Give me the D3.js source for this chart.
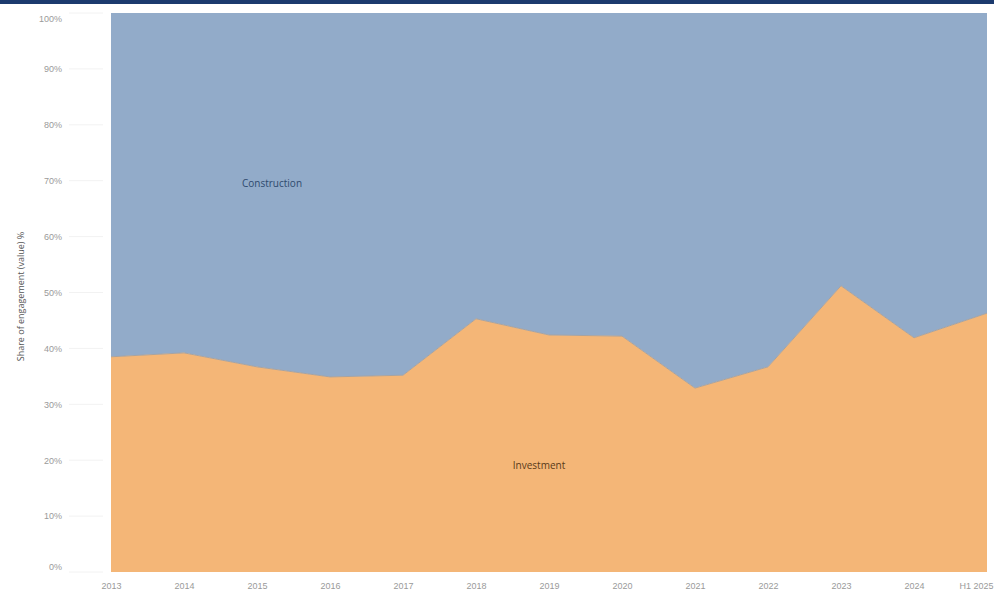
<!DOCTYPE html>
<html>
<head>
<meta charset="utf-8">
<script src="https://cdn.jsdelivr.net/npm/d3@7"></script>
<style>
  body { margin: 0; background: #fff; font-family: "Open Sans", "Noto Sans", sans-serif; }
  .axis text { fill: #9a9a9a; font-size: 9px; }
  .axis path, .axis line { stroke: none; }
</style>
</head>
<body>
<svg class="chart" width="994" height="600"></svg>
<script>
const years = ['2013', '2014', '2015', '2016', '2017', '2018', '2019', '2020', '2021', '2022', '2023', '2024', 'H1 2025'];
// investment share of engagement, %
const investment = [38.5, 39.2, 36.7, 34.9, 35.2, 45.3, 42.4, 42.2, 32.9, 36.7, 51.2, 41.9, 46.3];
const construction = investment.map(v => 100 - v);
const yTicks = [0, 10, 20, 30, 40, 50, 60, 70, 80, 90, 100];

const svg = d3.select('.chart');
const margin = { top: 13, right: 7, bottom: 28, left: 111 };
const width = +svg.attr('width') - margin.left - margin.right;
const height = +svg.attr('height') - margin.top - margin.bottom;

// dark band across the top
svg.append('rect')
  .attr('x', 0).attr('y', 0)
  .attr('width', 994).attr('height', 4)
  .attr('fill', '#1c3a6e');

const x = d3.scalePoint().domain(years).range([0, width]);
const y = d3.scaleLinear().domain([0, 100]).range([height, 0]);

const g = svg.append('g')
  .attr('transform', 'translate(' + margin.left + ',' + margin.top + ')');

// faint tick guides to the left of the plot
g.append('g')
  .selectAll('line')
  .data(yTicks)
  .join('line')
  .attr('x1', -42).attr('x2', -8)
  .attr('y1', d => y(d)).attr('y2', d => y(d))
  .attr('stroke', '#f2f2f2');

const rows = years.map((yr, i) => ({ year: yr, inv: investment[i], con: construction[i] }));

const areaInv = d3.area()
  .x(d => x(d.year))
  .y0(y(0))
  .y1(d => y(d.inv));

const areaCon = d3.area()
  .x(d => x(d.year))
  .y0(d => y(d.inv))
  .y1(d => y(d.inv + d.con));

g.append('path')
  .datum(rows)
  .attr('fill', '#92abc9')
  .attr('d', areaCon);

g.append('path')
  .datum(rows)
  .attr('fill', '#f4b677')
  .attr('d', areaInv);

// boundary line between the two series
g.append('path')
  .datum(rows)
  .attr('fill', 'none')
  .attr('stroke', '#a8a3a0')
  .attr('stroke-width', 1)
  .attr('d', d3.line().x(d => x(d.year)).y(d => y(d.inv)));

// x axis
const xAxis = g.append('g')
  .attr('class', 'axis axis--x')
  .attr('transform', 'translate(0,' + height + ')')
  .call(d3.axisBottom(x).tickSize(0).tickPadding(11));
// last label sits against the right edge
xAxis.selectAll('.tick')
  .filter(d => d === 'H1 2025')
  .select('text')
  .attr('text-anchor', 'end')
  .attr('x', 6);

// y axis (end labels nudged inward, as in the source)
const yAxis = g.append('g')
  .attr('class', 'axis axis--y')
  .attr('transform', 'translate(-46,0)')
  .call(d3.axisLeft(y).tickValues(yTicks).tickSize(0).tickFormat(d => d + '%'));
yAxis.selectAll('.tick')
  .filter(d => d === 100)
  .select('text').attr('dy', '0.95em');
yAxis.selectAll('.tick')
  .filter(d => d === 0)
  .select('text').attr('dy', '-0.3em');

svg.append('text')
  .attr('transform', 'translate(24,' + (margin.top + height / 2 + 4) + ') rotate(-90)')
  .attr('text-anchor', 'middle')
  .attr('fill', '#555')
  .attr('font-size', 9)
  .text('Share of engagement (value) %');

// series labels
g.append('text')
  .attr('x', x('2015') + 15)
  .attr('y', y(69.6) + 4)
  .attr('text-anchor', 'middle')
  .attr('fill', '#2f4a6e')
  .attr('font-size', 10)
  .text('Construction');

g.append('text')
  .attr('x', x('2019') - 10)
  .attr('y', y(19.2) + 4)
  .attr('text-anchor', 'middle')
  .attr('fill', '#5a3a18')
  .attr('font-size', 10)
  .text('Investment');
</script>
</body>
</html>
